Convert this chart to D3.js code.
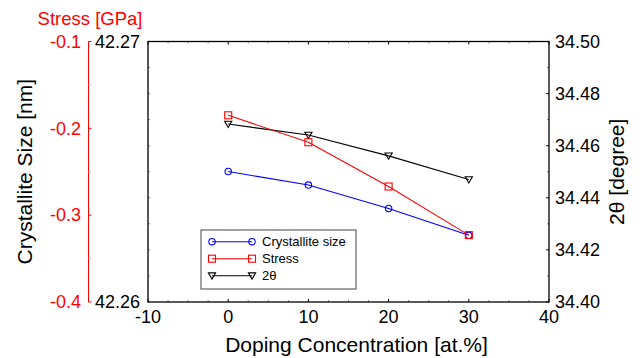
<!DOCTYPE html>
<html><head><meta charset="utf-8">
<script src="https://cdn.jsdelivr.net/npm/d3@7/dist/d3.min.js"></script>
<style>body{margin:0;background:#fff}svg{display:block;font-family:"Liberation Sans",Arial,sans-serif}</style>
</head><body><svg id="c" width="643" height="358"></svg>
<script>
const doping = [0, 10, 20, 30];
const crystalliteSize = [42.26501, 42.26449, 42.26359, 42.26256];
const stress = [-0.185, -0.216, -0.267, -0.323];
const twoTheta = [34.4683, 34.4641, 34.4561, 34.4470];
const xTicks = [-10, 0, 10, 20, 30, 40];
const stressTicks = [-0.1, -0.2, -0.3, -0.4];
const csTicks = [42.26, 42.27];
const thetaTicks = [34.40, 34.42, 34.44, 34.46, 34.48, 34.50];
const legendLabels = ["Crystallite size", "Stress", "2\u03b8"];

const L = 148, R = 549, T = 41.5, B = 302;
const svg = d3.select("#c");
const x = d3.scaleLinear([-10, 40], [L, R]);
const yS = d3.scaleLinear([-0.4, -0.1], [B, T]);
const yC = d3.scaleLinear([42.26, 42.27], [B, T]);
const yT = d3.scaleLinear([34.40, 34.50], [B, T]);

const g = svg.append("g");
// minor + major ticks on frame
const xMinor = d3.range(-10, 40.01, 2.5);
xMinor.forEach(v => {
  const major = Math.abs(v % 10) < 1e-9;
  const len = major ? 3 : 2;
  g.append("line").attr("x1", x(v)).attr("x2", x(v)).attr("y1", B).attr("y2", B - len).attr("stroke", major ? "#000" : "#888").attr("stroke-width", 1);
  g.append("line").attr("x1", x(v)).attr("x2", x(v)).attr("y1", T).attr("y2", T + len).attr("stroke", major ? "#000" : "#888").attr("stroke-width", 1);
});
d3.range(34.40, 34.5001, 0.01).forEach((v, i) => {
  const major = i % 2 === 0;
  g.append("line").attr("x1", R).attr("x2", R - (major ? 3 : 2)).attr("y1", yT(v)).attr("y2", yT(v)).attr("stroke", major ? "#000" : "#888");
});
d3.range(42.26, 42.27001, 0.001).forEach((v, i) => {
  g.append("line").attr("x1", L).attr("x2", L + 2).attr("y1", yC(v)).attr("y2", yC(v)).attr("stroke", "#888");
});
// frame
g.append("rect").attr("x", L).attr("y", T).attr("width", R - L).attr("height", B - T).attr("fill", "none").attr("stroke", "#000").attr("stroke-width", 1.3);

// x tick labels
xTicks.forEach(v => {
  g.append("text").attr("x", x(v)).attr("y", 323).attr("text-anchor", "middle").attr("font-size", 18).text(v);
});
// left inner labels
csTicks.forEach(v => {
  g.append("text").attr("x", 140).attr("y", yC(v)).attr("dy", "0.35em").attr("text-anchor", "end").attr("font-size", 18).text(v.toFixed(2));
});
// right labels
thetaTicks.forEach(v => {
  g.append("text").attr("x", 555).attr("y", yT(v)).attr("dy", "0.35em").attr("text-anchor", "start").attr("font-size", 18).text(v.toFixed(2));
});
// red stress axis
const RA = 88.5;
g.append("line").attr("x1", RA).attr("x2", RA).attr("y1", T).attr("y2", B).attr("stroke", "#f00").attr("stroke-width", 1);
d3.range(-0.4, -0.0999, 0.05).forEach((v, i) => {
  const major = i % 2 === 0;
  g.append("line").attr("x1", RA).attr("x2", RA + (major ? 3 : 2)).attr("y1", yS(v)).attr("y2", yS(v)).attr("stroke", major ? "#f00" : "#f99");
});
stressTicks.forEach(v => {
  g.append("text").attr("x", 81).attr("y", yS(v)).attr("dy", "0.35em").attr("text-anchor", "end").attr("font-size", 18).attr("fill", "#f00").text(v.toFixed(1));
});
g.append("text").attr("x", 90).attr("y", 25).attr("text-anchor", "middle").attr("font-size", 18.5).attr("fill", "#f00").text("Stress [GPa]");

// axis titles
g.append("text").attr("x", (L + R) / 2 + 8).attr("y", 352).attr("text-anchor", "middle").attr("font-size", 21).text("Doping Concentration [at.%]");
g.append("text").attr("transform", `translate(32,${(T + B) / 2}) rotate(-90)`).attr("text-anchor", "middle").attr("font-size", 21).text("Crystallite Size [nm]");
g.append("text").attr("transform", `translate(624,${(T + B) / 2}) rotate(-90)`).attr("text-anchor", "middle").attr("font-size", 21).text("2\u03b8 [degree]");

// markers
function marker(sel, type, color) {
  if (type === "o") sel.append("circle").attr("r", 3.2).attr("fill", "none").attr("stroke", color).attr("stroke-width", 1.1);
  else if (type === "s") sel.append("rect").attr("x", -3.5).attr("y", -3.5).attr("width", 7).attr("height", 7).attr("fill", "none").attr("stroke", color).attr("stroke-width", 1.1);
  else sel.append("path").attr("d", "M-3.6,-2.8L3.6,-2.8L0,3.4Z").attr("fill", "none").attr("stroke", color).attr("stroke-width", 1.1);
}
const series = [
  {vals: twoTheta, y: yT, color: "#000", m: "v"},
  {vals: crystalliteSize, y: yC, color: "#0000ff", m: "o"},
  {vals: stress, y: yS, color: "#ff0000", m: "s"},
];
series.forEach(s => {
  const line = d3.line().x((d, i) => x(doping[i])).y(d => s.y(d));
  g.append("path").attr("d", line(s.vals)).attr("fill", "none").attr("stroke", s.color).attr("stroke-width", 1.1);
  s.vals.forEach((v, i) => marker(g.append("g").attr("transform", `translate(${x(doping[i])},${s.y(v)})`), s.m, s.color));
});

// legend
const lg = g.append("g");
lg.append("rect").attr("x", 201).attr("y", 230).attr("width", 155).attr("height", 59).attr("fill", "#fff").attr("stroke", "#444").attr("stroke-width", 1);
const legendSeries = [{c: "#0000ff", m: "o"}, {c: "#ff0000", m: "s"}, {c: "#000", m: "v"}];
legendLabels.forEach((lab, i) => {
  const yy = 241.7 + i * 17;
  lg.append("line").attr("x1", 212).attr("x2", 252).attr("y1", yy).attr("y2", yy).attr("stroke", legendSeries[i].c).attr("stroke-width", 1.1);
  [212, 252].forEach(xx => marker(lg.append("g").attr("transform", `translate(${xx},${yy})`), legendSeries[i].m, legendSeries[i].c));
  lg.append("text").attr("x", 262).attr("y", yy).attr("dy", "0.35em").attr("font-size", 13).text(lab);
});
</script></body></html>
